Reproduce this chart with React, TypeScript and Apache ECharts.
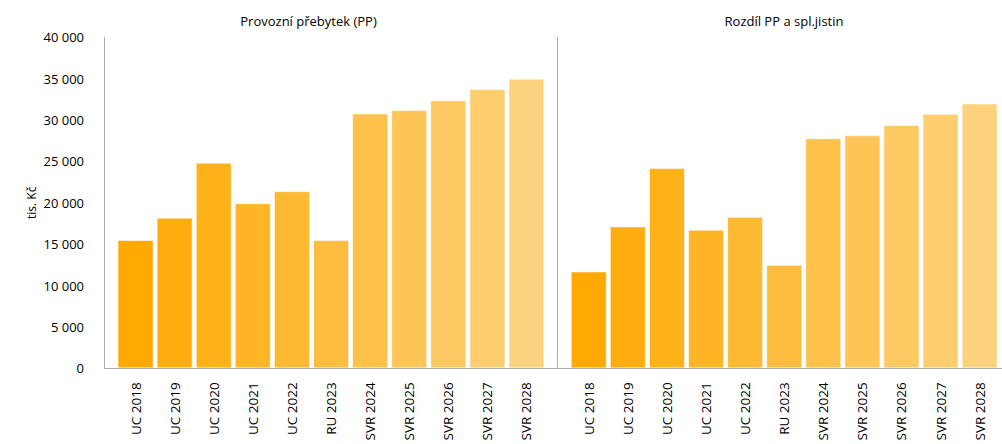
import React, { useEffect, useRef } from "react";
import * as echarts from "echarts";

const categories = [
  "UC 2018", "UC 2019", "UC 2020", "UC 2021", "UC 2022", "RU 2023",
  "SVR 2024", "SVR 2025", "SVR 2026", "SVR 2027", "SVR 2028",
];

// Provozní přebytek (tis. Kč)
const provozniPrebytek = [15500, 18200, 24850, 19950, 21400, 15500, 30800, 31200, 32400, 33750, 35000];

// Rozdíl PP a splátek jistin (tis. Kč)
const rozdilPP = [11700, 17150, 24200, 16750, 18300, 12500, 27800, 28150, 29400, 30750, 32000];

const barColors = [
  "#FFA902", "#FFAD0E", "#FFB11A", "#FFB526", "#FEB932", "#FEBD3E",
  "#FEC14A", "#FEC556", "#FDC962", "#FDCD6E", "#FDD27D",
];

const yTicks = { min: 0, max: 40000, interval: 5000 };

const titles = ["Provozní přebytek (PP)", "Rozdíl PP a spl.jistin"];

const FONT = "'Open Sans', sans-serif";
const AXIS_GRAY = "#ADADAD";

const fmt = (v: number) => String(v).replace(/\B(?=(\d{3})+(?!\d))/g, " ");

export default function App() {
  const ref = useRef<HTMLDivElement>(null);

  useEffect(() => {
    if (!ref.current) return;
    const chart = echarts.init(ref.current, null, { renderer: "svg" });

    const grids = [
      { left: 116, top: 37.3, width: 430, height: 331 },
      { left: 569.2, top: 37.3, width: 430, height: 331 },
    ];

    const mkBars = (values: number[], idx: number) => ({
      type: "bar",
      xAxisIndex: idx,
      yAxisIndex: idx,
      barWidth: 36,
      data: values.map((v, i) => ({
        value: v,
        itemStyle: { color: barColors[i] },
      })),
      itemStyle: { borderColor: "rgba(255,255,255,0.55)", borderWidth: 1 },
    });

    chart.setOption({
      animation: false,
      backgroundColor: "#ffffff",
      textStyle: { fontFamily: FONT },
      grid: grids,
      xAxis: [0, 1].map((i) => ({
        type: "category",
        gridIndex: i,
        data: categories,
        axisLine: { show: false },
        axisTick: { show: false },
        axisLabel: {
          rotate: 90,
          margin: 14,
          fontSize: 13.5,
          color: "#000",
          fontFamily: FONT,
        },
      })),
      yAxis: [0, 1].map((i) => ({
        type: "value",
        gridIndex: i,
        min: yTicks.min,
        max: yTicks.max,
        interval: yTicks.interval,
        offset: i === 0 ? 12 : 12.2,
        name: i === 0 ? "tis. Kč" : "",
        nameLocation: "middle",
        nameGap: 67,
        nameRotate: 90,
        nameTextStyle: { fontSize: 12, color: "#000", fontFamily: FONT },
        axisLine: { show: true, lineStyle: { color: AXIS_GRAY, width: 1 } },
        axisTick: { show: false },
        splitLine: { show: false },
        axisLabel: {
          show: i === 0,
          margin: 20,
          fontSize: 13,
          color: "#000",
          fontFamily: FONT,
          formatter: (v: number) => fmt(v),
        },
      })),
      series: [mkBars(provozniPrebytek, 0), mkBars(rozdilPP, 1)],
      graphic: [
        {
          type: "line",
          shape: { x1: 104, y1: 368.5, x2: 1002, y2: 368.5 },
          style: { stroke: AXIS_GRAY, lineWidth: 1 },
          z: 10,
        },
        {
          type: "text",
          x: 308.5,
          y: 21,
          style: {
            text: titles[0],
            fontSize: 13,
            fontFamily: FONT,
            fill: "#000",
            textAlign: "center",
            textVerticalAlign: "middle",
          },
        },
        {
          type: "text",
          x: 784,
          y: 21,
          style: {
            text: titles[1],
            fontSize: 13,
            fontFamily: FONT,
            fill: "#000",
            textAlign: "center",
            textVerticalAlign: "middle",
          },
        },
      ],
    });

    return () => chart.dispose();
  }, []);

  return (
    <div
      ref={ref}
      style={{ position: "fixed", left: 0, top: 0, width: 1002, height: 444 }}
    />
  );
}
